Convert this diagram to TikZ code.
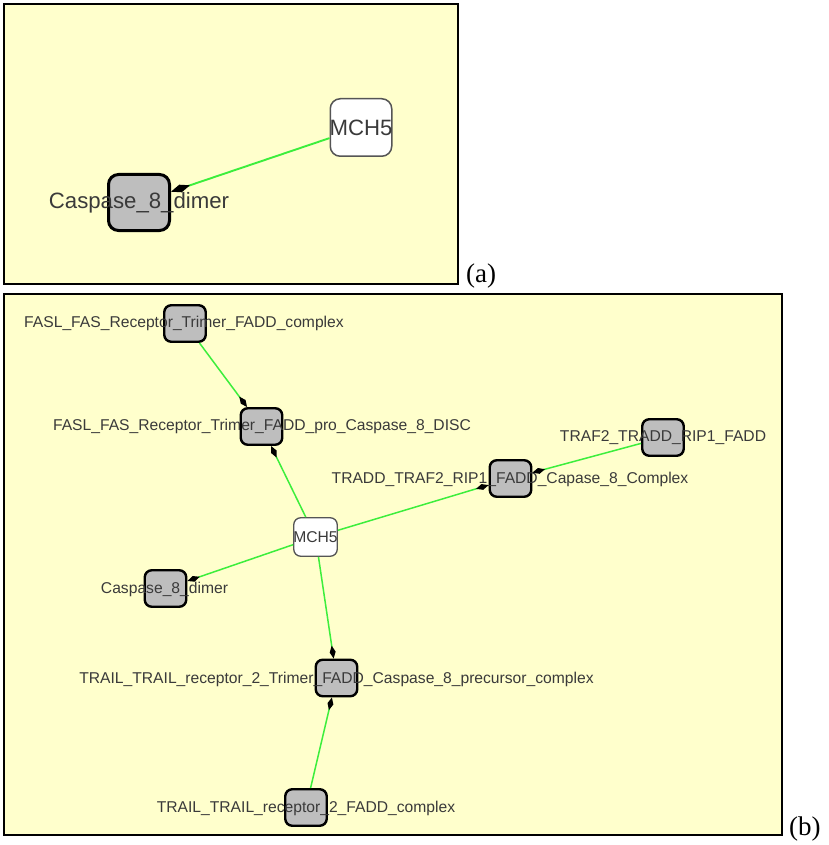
\documentclass[tikz,border=0pt]{standalone}
\usepackage{fontspec}
\setmainfont{Liberation Serif}
\newfontfamily\dlgfont{Liberation Sans}
\usetikzlibrary{arrows.meta}
\definecolor{bgyellow}{HTML}{FFFFCC}
\definecolor{cplxgray}{HTML}{BEBEBE}
\definecolor{edgegreen}{HTML}{3CEE3C}
\definecolor{txtgray}{HTML}{3A3A3A}
\definecolor{protborder}{HTML}{555555}
\begin{document}
\begin{tikzpicture}[x=1pt,y=-1pt,
  panel/.style={draw=black,line width=1.6pt,fill=bgyellow},
  cplxA/.style={draw=black,line width=3pt,fill=cplxgray,rounded corners=10pt,minimum width=61pt,minimum height=56pt,inner sep=0pt},
  protA/.style={draw=protborder,line width=1.5pt,fill=white,rounded corners=10pt,minimum width=61.5pt,minimum height=57.5pt,inner sep=0pt},
  cplxB/.style={draw=black,line width=2.4pt,fill=cplxgray,rounded corners=7pt,minimum width=41.5pt,minimum height=36.5pt,inner sep=0pt},
  protB/.style={draw=protborder,line width=1.3pt,fill=white,rounded corners=7pt,minimum width=43.5pt,minimum height=38.5pt,inner sep=0pt},
  lblA/.style={inner sep=0pt,text=txtgray,font=\dlgfont\fontsize{22.2}{26}\selectfont},
  lblB/.style={inner sep=0pt,text=txtgray,font=\dlgfont\fontsize{15.65}{18}\selectfont},
  edgeA/.style={draw=edgegreen,line width=1.9pt,-{Diamond[length=20pt,width=8pt,color=black]}},
  edgeB/.style={draw=edgegreen,line width=1.5pt,-{Diamond[length=13pt,width=6pt,color=black]}},
  panellbl/.style={inner sep=0pt,anchor=base west,font=\fontsize{27}{30}\selectfont}
]
\useasboundingbox (0,0) rectangle (828,845);
% panels
\path[panel] (4,4) rectangle (458,284);
\node[panellbl] (la) at (466,282) {(a)};
\path[panel] (4,294) rectangle (782,835);
\node[panellbl] (lb) at (789,835) {(b)};

% panel (a)
\node[protA] (amch) at (361,127.5) {};
\node[cplxA] (acasp) at (139,202.5) {};
\node[lblA] (amchl) at (361,128) {MCH5};
\node[lblA] (acaspl) at (139,203) {Caspase\_8\_dimer};
\draw[edgeA] (amch) -- (acasp);

% panel (b)
\node[cplxB] (fc) at (185,323.5) {};
\node[cplxB] (disc) at (261.5,426.5) {};
\node[cplxB] (traf) at (663,437.5) {};
\node[cplxB] (tradd) at (510.5,478.5) {};
\node[protB] (mch) at (315.5,537) {};
\node[cplxB] (casp) at (165.5,588.5) {};
\node[cplxB] (prec) at (336.5,678) {};
\node[cplxB] (bot) at (306,807.5) {};

\node[lblB] (fcl) at (184,323) {FASL\_FAS\_Receptor\_Trimer\_FADD\_complex};
\node[lblB] (discl) at (262,426) {FASL\_FAS\_Receptor\_Trimer\_FADD\_pro\_Caspase\_8\_DISC};
\node[lblB] (trafl) at (663,438) {TRAF2\_TRADD\_RIP1\_FADD};
\node[lblB] (traddl) at (510,479) {TRADD\_TRAF2\_RIP1\_FADD\_Capase\_8\_Complex};
\node[lblB] (mchl) at (315.5,537.5) {MCH5};
\node[lblB] (caspl) at (164.5,589) {Caspase\_8\_dimer};
\node[lblB] (precl) at (336.5,679) {TRAIL\_TRAIL\_receptor\_2\_Trimer\_FADD\_Caspase\_8\_precursor\_complex};
\node[lblB] (botl) at (306,808) {TRAIL\_TRAIL\_receptor\_2\_FADD\_complex};

\draw[edgeB] (fc) -- (disc);
\draw[edgeB] (mch) -- (disc);
\draw[edgeB] (mch) -- (tradd);
\draw[edgeB] (traf) -- (tradd);
\draw[edgeB] (mch) -- (casp);
\draw[edgeB] (mch) -- (prec);
\draw[edgeB] (bot) -- (prec);
\end{tikzpicture}
\end{document}
